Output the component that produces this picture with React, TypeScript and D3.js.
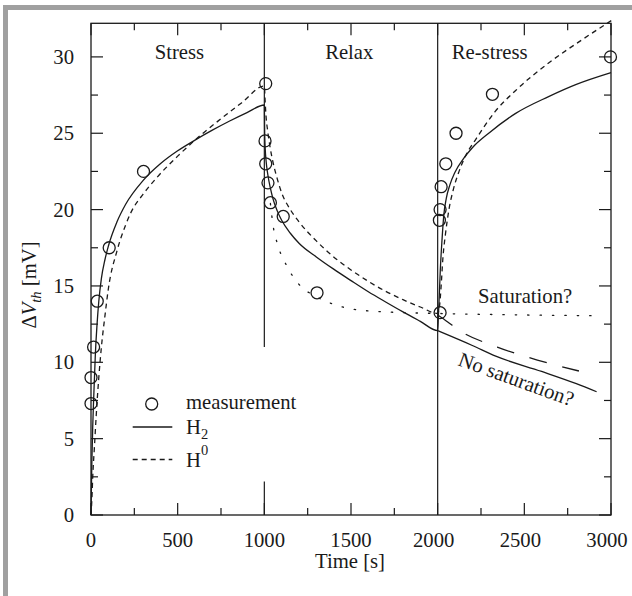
import React from "react";
import * as d3 from "d3";

// ---- data ----
const measT = [0, 0, 15, 36, 105, 303, 1008, 1004, 1008, 1021, 1035, 1109, 1304, 2014, 2010, 2014, 2020, 2047, 2106, 2316, 2997];
const measV = [7.3, 9.0, 11.0, 14.0, 17.5, 22.5, 28.25, 24.5, 23.0, 21.75, 20.45, 19.55, 14.55, 13.25, 19.3, 20.0, 21.5, 23.0, 25.0, 27.55, 30.0];

const h2T = [0, 2, 5, 10, 15, 20, 25, 35, 45, 60, 80, 100, 150, 200, 300, 400, 500, 600, 700, 800, 900, 1000,
  1002, 1005, 1010, 1020, 1035, 1050, 1075, 1100, 1150, 1200, 1300, 1400, 1500, 1600, 1700, 1800, 1900, 2000,
  2004, 2008, 2015, 2025, 2035, 2050, 2070, 2100, 2150, 2200, 2300, 2450, 2640, 2800, 3000];
const h2V = [0, 1.5, 3.5, 5.8, 7.5, 9.0, 10.5, 12.5, 14.0, 15.5, 16.7, 17.6, 19.2, 20.35, 21.9, 23.0, 23.85, 24.55, 25.2, 25.8, 26.35, 26.85,
  25.0, 24.0, 23.2, 22.3, 21.4, 20.7, 19.9, 19.3, 18.45, 17.8, 16.9, 16.1, 15.35, 14.62, 13.95, 13.3, 12.68, 12.07,
  13.0, 14.0, 16.0, 18.0, 19.6, 20.75, 21.6, 22.45, 23.35, 24.05, 25.05, 26.3, 27.4, 28.2, 28.97];

const h0T = [0, 5, 10, 20, 30, 45, 60, 80, 100, 150, 200, 230, 300, 380, 500, 630, 750, 870, 1000,
  1005, 1010, 1020, 1033, 1050, 1075, 1100, 1150, 1200, 1300, 1400, 1500, 1600, 1700, 1800, 1900, 2000,
  2010, 2020, 2030, 2045, 2065, 2090, 2120, 2160, 2220, 2330, 2450, 2640, 2830, 3005];
const h0V = [0, 1.0, 2.5, 4.5, 6.5, 9.0, 11.0, 13.0, 14.8, 17.3, 19.0, 19.8, 21.0, 22.1, 23.5, 24.85, 25.95, 27.0, 28.1,
  27.0, 26.1, 25.1, 24.1, 23.1, 22.0, 21.1, 20.0, 19.2, 17.95, 16.9, 16.05, 15.3, 14.65, 14.1, 13.62, 13.2,
  13.6, 15.0, 16.8, 18.4, 20.0, 21.3, 22.4, 23.5, 24.6, 26.4, 27.8, 29.6, 31.1, 32.4];

const noSatDashT = [2000, 2056, 2123, 2344, 2575, 2815];
const noSatDashV = [13.1, 12.66, 12.1, 11.0, 10.15, 9.43];
const noSatSolidT = [2000, 2200, 2335, 2600, 2800, 2917];
const noSatSolidV = [12.07, 11.1, 10.4, 9.4, 8.6, 8.07];

const satT = [1035, 1050, 1080, 1130, 1200, 1300, 1400, 1500, 1700, 2000, 2500, 2890];
const satV = [20.4, 19.0, 17.6, 16.3, 15.1, 14.3, 13.8, 13.5, 13.3, 13.2, 13.1, 13.05];

const xTicks = [0, 500, 1000, 1500, 2000, 2500, 3000];
const xMinor = [250, 750, 1250, 1750, 2250, 2750];
const yTicks = [0, 5, 10, 15, 20, 25, 30];
const yMinor = [2.5, 7.5, 12.5, 17.5, 22.5, 27.5];

const phaseLabels = ["Stress", "Relax", "Re-stress"];
const phaseCenters = [510, 1490, 2300];

const W = 632, H = 596;
const FONT = "'Liberation Serif', 'Times New Roman', serif";
const INK = "#1a1a1a";

export default function App() {
  const x = d3.scaleLinear().domain([0, 3000]).range([91, 611]);
  const y = d3.scaleLinear().domain([0, 32.2]).range([515, 23.3]);
  const line = d3.line<[number, number]>().x(d => x(d[0])).y(d => y(d[1])).curve(d3.curveMonotoneX);
  const zip = (t: number[], v: number[]) => t.map((tt, i) => [tt, v[i]] as [number, number]);

  const [x0, x1] = x.range();
  const [y0, y1] = y.range();
  const major = 12, minor = 7;

  return (
    <svg width={W} height={H} style={{ position: "absolute", left: 0, top: 0, background: "#fff" }}
      fontFamily={FONT} fontSize={20.7} fill={INK}>
      {/* grey frame */}
      <rect x={3} y={5} width={W - 3} height={5} fill="#a0a0a0" />
      <rect x={3} y={5} width={5} height={H - 5} fill="#a0a0a0" />

      {/* plot frame */}
      <rect x={x0} y={y1} width={x1 - x0} height={y0 - y1} fill="none" stroke={INK} strokeWidth={1.3} />

      {/* ticks */}
      <g stroke={INK} strokeWidth={1.2}>
        {xTicks.map(t => (
          <g key={"xt" + t}>
            <line x1={x(t)} x2={x(t)} y1={y0} y2={y0 - major} />
            <line x1={x(t)} x2={x(t)} y1={y1} y2={y1 + major} />
          </g>
        ))}
        {xMinor.map(t => (
          <g key={"xm" + t}>
            <line x1={x(t)} x2={x(t)} y1={y0} y2={y0 - minor} />
            <line x1={x(t)} x2={x(t)} y1={y1} y2={y1 + minor} />
          </g>
        ))}
        {yTicks.map(v => (
          <g key={"yt" + v}>
            <line x1={x0} x2={x0 + major} y1={y(v)} y2={y(v)} />
            <line x1={x1} x2={x1 - major} y1={y(v)} y2={y(v)} />
          </g>
        ))}
        {yMinor.map(v => (
          <g key={"ym" + v}>
            <line x1={x0} x2={x0 + minor} y1={y(v)} y2={y(v)} />
            <line x1={x1} x2={x1 - minor} y1={y(v)} y2={y(v)} />
          </g>
        ))}
        {/* phase separators */}
        <line x1={x(1000)} x2={x(1000)} y1={y1} y2={y(11)} />
        <line x1={x(1000)} x2={x(1000)} y1={y0} y2={y(2.2)} />
        <line x1={x(2000)} x2={x(2000)} y1={y1} y2={y0} />
      </g>

      {/* tick labels */}
      {xTicks.map(t => (
        <text key={"xl" + t} x={x(t) - (t >= 2000 ? 4 : 0)} y={547} textAnchor="middle">{t}</text>
      ))}
      {yTicks.map(v => (
        <text key={"yl" + v} x={74} y={y(v) + 7} textAnchor="end">{v}</text>
      ))}

      {/* axis titles */}
      <text x={350} y={568} textAnchor="middle">Time [s]</text>
      <text transform="translate(36,285) rotate(-90)" textAnchor="middle">
        Δ<tspan fontStyle="italic">V</tspan>
        <tspan fontStyle="italic" fontSize={14.5} dy={5}>th</tspan>
        <tspan dy={-5}> [mV]</tspan>
      </text>

      {/* curves */}
      <g fill="none" stroke={INK} strokeWidth={1.3}>
        <path d={line(zip(h2T, h2V)) || ""} />
        <path d={line(zip(h0T, h0V)) || ""} strokeDasharray="5,4" />
        <path d={line(zip(noSatSolidT, noSatSolidV)) || ""} />
        <path d={line(zip(noSatDashT, noSatDashV)) || ""} strokeDasharray="18,16" />
        <path d={line(zip(satT, satV)) || ""} strokeDasharray="1.4,11" strokeLinecap="round" />
      </g>

      {/* measurements */}
      <g fill="none" stroke={INK} strokeWidth={1.3}>
        {measT.map((t, i) => (
          <circle key={"m" + i} cx={x(t)} cy={y(measV[i])} r={6} />
        ))}
      </g>

      {/* phase labels */}
      {phaseLabels.map((s, i) => (
        <text key={s} x={x(phaseCenters[i])} y={59} textAnchor="middle">{s}</text>
      ))}
      <text x={478} y={303}>Saturation?</text>
      <text transform="translate(457,365) rotate(20)">No saturation?</text>

      {/* legend */}
      <circle cx={151.7} cy={404} r={6} fill="none" stroke={INK} strokeWidth={1.3} />
      <text x={186} y={409}>measurement</text>
      <line x1={132.7} x2={172.3} y1={427} y2={427} stroke={INK} strokeWidth={1.3} />
      <text x={186} y={434}>H<tspan fontSize={14.5} dy={5}>2</tspan></text>
      <line x1={132.7} x2={172.3} y1={459.5} y2={459.5} stroke={INK} strokeWidth={1.3} strokeDasharray="5,4" />
      <text x={186} y={467}>H<tspan fontSize={14.5} dy={-12}>0</tspan></text>
    </svg>
  );
}
